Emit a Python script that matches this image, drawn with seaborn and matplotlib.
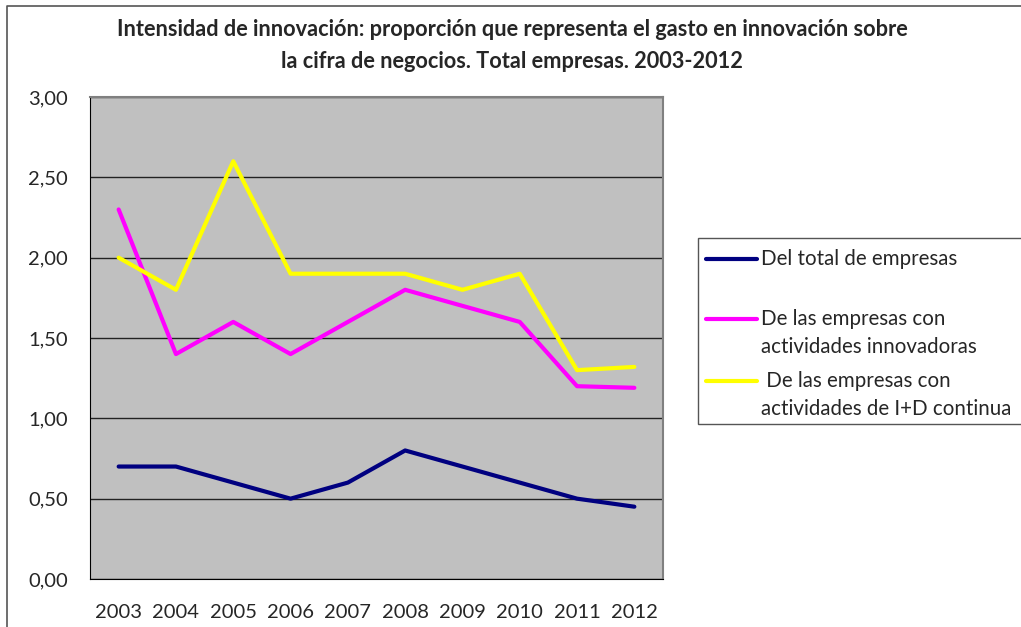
import pandas as pd
import numpy as np
import matplotlib.pyplot as plt
import seaborn as sns
from matplotlib.lines import Line2D
from matplotlib.patches import Rectangle

# data
years = ['2003', '2004', '2005', '2006', '2007', '2008', '2009', '2010', '2011', '2012']
total = [0.70, 0.70, 0.60, 0.50, 0.60, 0.80, 0.70, 0.60, 0.50, 0.45]
innovadoras = [2.30, 1.40, 1.60, 1.40, 1.60, 1.80, 1.70, 1.60, 1.20, 1.19]
id_continua = [2.00, 1.80, 2.60, 1.90, 1.90, 1.90, 1.80, 1.90, 1.30, 1.32]

series_names = ['Del total de empresas',
                'De las empresas con\nactividades innovadoras',
                ' De las empresas con\nactividades de I+D continua']
colors = ['#000080', '#FF00FF', '#FFFF00']

df = pd.concat([
    pd.DataFrame({'pos': range(len(years)), 'valor': vals, 'serie': name})
    for name, vals in zip(series_names, [total, innovadoras, id_continua])
])

sns.set_style('white')
plt.rcParams['font.family'] = ['Lato', 'DejaVu Sans']

fig = plt.figure(figsize=(10.21, 6.27), dpi=100)
ax = fig.add_axes([90 / 1021, 1 - 579 / 627, 573 / 1021, 482 / 627])
ax.set_facecolor('#C0C0C0')

sns.lineplot(data=df, x='pos', y='valor', hue='serie', palette=colors,
             linewidth=3, legend=False, ax=ax, zorder=3)

ax.set_xlim(-0.5, len(years) - 0.5)
ax.set_ylim(0, 3)
ax.set_yticks(np.arange(0, 3.01, 0.5))
ax.set_yticklabels([f'{v:.2f}'.replace('.', ',') for v in np.arange(0, 3.01, 0.5)], fontsize=14.5)
ax.set_xticks(range(len(years)))
ax.set_xticklabels(years, fontsize=14.5)
ax.set_xticks(np.arange(-0.5, len(years), 1), minor=True)
ax.tick_params(axis='x', which='major', length=0, pad=18)
ax.tick_params(axis='x', which='minor', length=5, width=1, color='black', direction='out')
ax.tick_params(axis='y', length=6, width=1, color='black', direction='out', pad=10)
ax.grid(axis='y', color='#222222', linewidth=1)
ax.set_axisbelow(True)
ax.set_xlabel('')
ax.set_ylabel('')
for s in ['left', 'bottom']:
    ax.spines[s].set_color('black')
for s in ['top', 'right']:
    ax.spines[s].set_color('#808080')
    ax.spines[s].set_linewidth(1.5)

fig.text(512 / 1021, 1 - 30 / 627,
         'Intensidad de innovación: proporción que representa el gasto en innovación sobre',
         ha='center', va='center', fontsize=15.7, fontweight='bold')
fig.text(512 / 1021, 1 - 62 / 627,
         'la cifra de negocios. Total empresas. 2003-2012',
         ha='center', va='center', fontsize=15.7, fontweight='bold')

# chart border
fig.add_artist(Line2D([7 / 1021, 7 / 1021, 1.0], [0, 1 - 6 / 627, 1 - 6 / 627],
                      transform=fig.transFigure, color='#555555', linewidth=1.2))

# legend drawn by hand
fig.add_artist(Rectangle((698 / 1021, 1 - 424 / 627), 330 / 1021, 186 / 627,
                         transform=fig.transFigure, facecolor='white',
                         edgecolor='#555555', linewidth=1))
handle_y = [259, 319, 381]
for c, name, hy in zip(colors, series_names, handle_y):
    fig.add_artist(Line2D([706 / 1021, 757 / 1021], [1 - hy / 627, 1 - hy / 627],
                          transform=fig.transFigure, color=c, linewidth=3))
    fig.text(761 / 1021, 1 - (hy - 10) / 627, name, ha='left', va='top',
             fontsize=14.8, linespacing=1.5)

fig.savefig('out.png', dpi=100)
